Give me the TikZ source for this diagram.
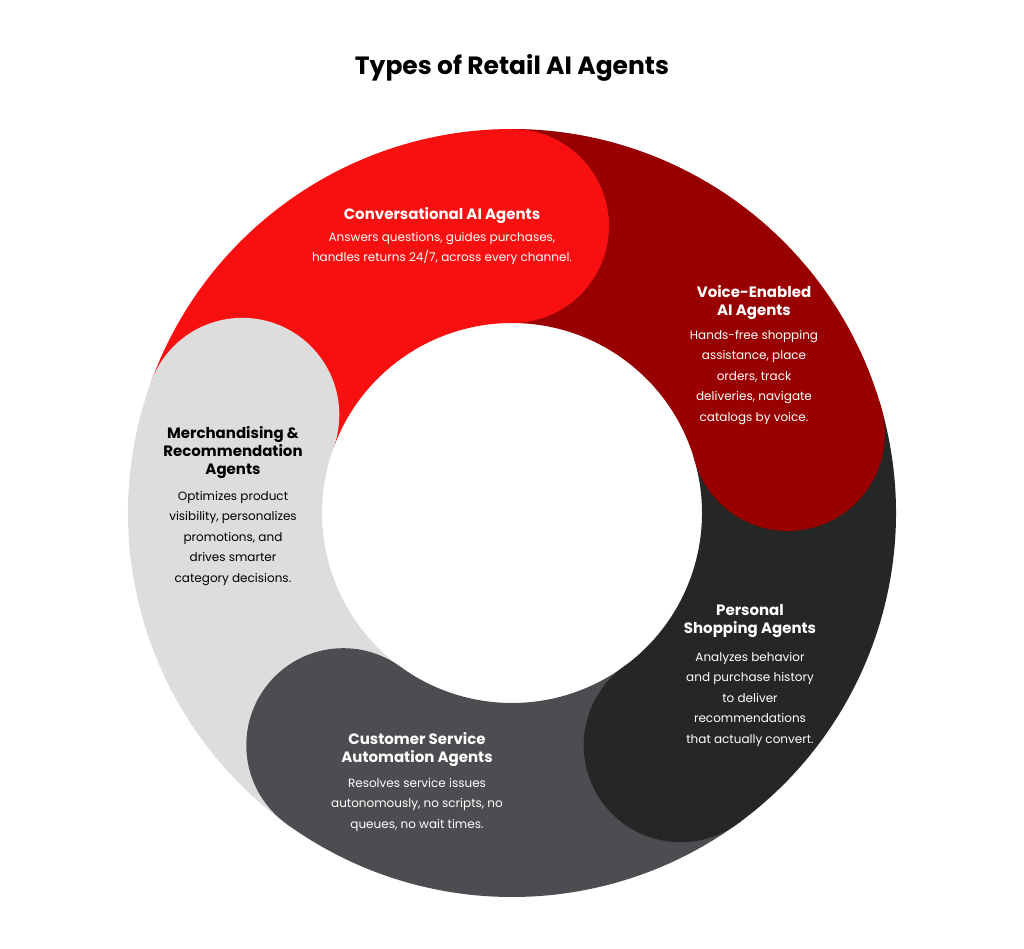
\documentclass[tikz,border=0pt]{standalone}
\usepackage{fontspec}
\setmainfont{Poppins}
\definecolor{cred}{HTML}{F80F0F}
\definecolor{cdred}{HTML}{990000}
\definecolor{cblk}{HTML}{252626}
\definecolor{cmid}{HTML}{4C4D50}
\definecolor{clt}{HTML}{DDDDDD}
\begin{document}
\begin{tikzpicture}[x=1pt,y=1pt,
  hd/.style={font=\fontsize{15}{18}\selectfont\bfseries,align=center,inner sep=0},
  bd/.style={font=\fontsize{12}{20.5}\selectfont,align=center,inner sep=0},
  seg/.style={shift={(512,-513)}}]
\fill[white] (0,0) rectangle (1024,-949);
\useasboundingbox (0,0) rectangle (1024,-949);
% sectors
\fill[cred,seg] (160:384) arc(160:90:384) -- (90:190) arc(90:160:190) -- cycle;
\fill[cdred,seg] (90:384) arc(90:16:384) -- (16:190) arc(16:90:190) -- cycle;
\fill[cblk,seg] (16:384) arc(16:-54:384) -- (-54:190) arc(-54:16:190) -- cycle;
\fill[cmid,seg] (-54:384) arc(-54:-126:384) -- (-126:190) arc(-126:-54:190) -- cycle;
\fill[clt,seg] (-126:384) arc(-126:-200:384) -- (-200:190) arc(-200:-126:190) -- cycle;
% caps
\fill[cred,seg] (90:287) circle(97);
\fill[cdred,seg] (16:287) circle(97);
\fill[cblk,seg] (-54:287) circle(97);
\fill[cmid,seg] (-126:287) circle(97);
\fill[clt,seg] (160:287) circle(97);
% texts
\node[font=\fontsize{25}{30}\selectfont\bfseries] (title) at (512,-68) {Types of Retail AI Agents};
\node[hd,white] (t1) at (442,-216) {Conversational AI Agents};
\node[bd,white,anchor=north] (b1) at (442,-232) {Answers questions, guides purchases,\\handles returns 24/7, across every channel.};
\node[hd,white,anchor=north] (t2) at (754,-285) {Voice-Enabled\\AI Agents};
\node[bd,white,anchor=north] (b2) at (754,-330) {Hands-free shopping\\assistance, place\\orders, track\\deliveries, navigate\\catalogs by voice.};
\node[hd,black,anchor=north] (t3) at (233,-426) {Merchandising \&\\Recommendation\\Agents};
\node[bd,black,anchor=north] (b3) at (233,-491) {Optimizes product\\visibility, personalizes\\promotions, and\\drives smarter\\category decisions.};
\node[hd,white,anchor=north] (t4) at (750,-604) {Personal\\Shopping Agents};
\node[bd,white,anchor=north] (b4) at (750,-652) {Analyzes behavior\\and purchase history\\to deliver\\recommendations\\that actually convert.};
\node[hd,white,anchor=north] (t5) at (417,-732) {Customer Service\\Automation Agents};
\node[bd,white,anchor=north] (b5) at (417,-778) {Resolves service issues\\autonomously, no scripts, no\\queues, no wait times.};
\end{tikzpicture}
\end{document}
